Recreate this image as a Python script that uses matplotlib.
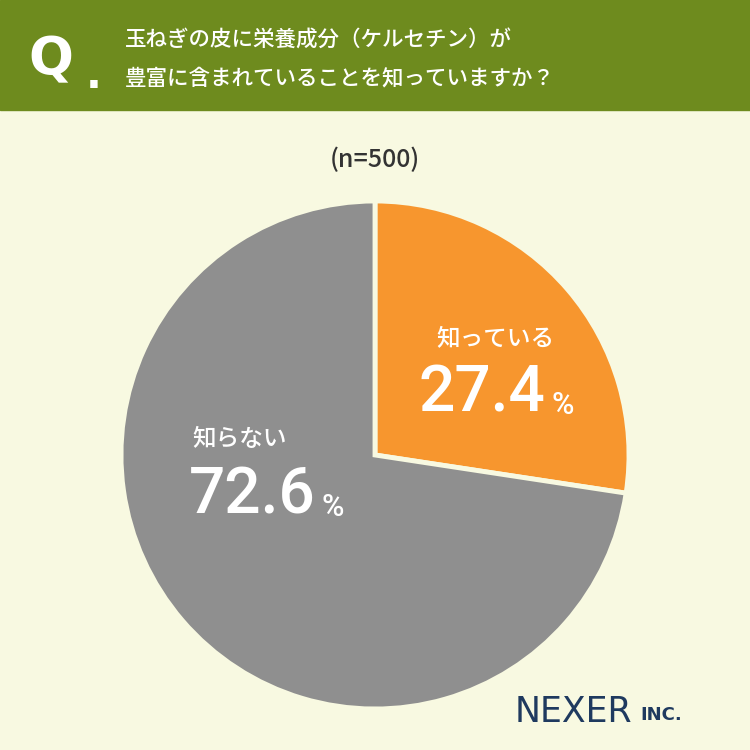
import matplotlib
matplotlib.use("Agg")
import matplotlib.pyplot as plt
from matplotlib.patches import Rectangle

labels = ["知っている", "知らない"]
values = [27.4, 72.6]
colors = ["#f7962e", "#8f8f8f"]
question = ["玉ねぎの皮に栄養成分（ケルセチン）が", "豊富に含まれていることを知っていますか？"]
n_text = "(n=500)"

plt.rcParams['font.family'] = ['Noto Sans CJK JP', 'DejaVu Sans']
fig = plt.figure(figsize=(7.5, 7.5), dpi=100)
fig.patch.set_facecolor("#f8f9e1")
bg = fig.add_axes([0, 0, 1, 1]); bg.set_xlim(0, 750); bg.set_ylim(750, 0); bg.axis("off")
bg.add_patch(Rectangle((0, 0), 750, 110, color="#6e8b1e"))

r = 254
ax = fig.add_axes([(375 - r) / 750, 1 - (455 + r) / 750, 2 * r / 750, 2 * r / 750])
ax.pie(values, colors=colors, startangle=90, counterclock=False, radius=1,
       wedgeprops=dict(edgecolor="#f8f9e1", linewidth=3.5))
ax.set_xlim(-1, 1); ax.set_ylim(-1, 1)
ax.set_aspect("equal")

ov = fig.add_axes([0, 0, 1, 1]); ov.set_xlim(0, 750); ov.set_ylim(750, 0); ov.axis("off")
ov.patch.set_alpha(0)
ov.text(28, 60, "Q", color="white", fontsize=38, fontweight="bold", va="center", family="DejaVu Sans")
ov.text(86, 76, ".", color="white", fontsize=30, fontweight="bold", va="center", family="DejaVu Sans")
ov.text(125, 40, question[0], color="white", fontsize=15.5, va="center", fontweight="medium")
ov.text(125, 78, question[1], color="white", fontsize=15.5, va="center", fontweight="medium")
ov.text(375, 160, n_text, color="#333333", fontsize=18, ha="center", va="center", fontweight="medium")
ov.text(515, 712, "NEXER", color="#1f3a5f", fontsize=25, ha="left", va="center", family="DejaVu Sans")
ov.text(640, 715, "INC.", color="#1f3a5f", fontsize=13, ha="left", va="center", family="DejaVu Sans", fontweight="bold")

ov.text(495, 340, labels[0], color="white", fontsize=17, ha="center", va="center", fontweight="medium")
ov.text(482, 393, "27.4", color="white", fontsize=46, ha="center", va="center", family="Roboto", fontweight="medium")
ov.text(563, 405, "%", color="white", fontsize=22, ha="center", va="center", family="Roboto", fontweight="medium")
ov.text(240, 440, labels[1], color="white", fontsize=17, ha="center", va="center", fontweight="medium")
ov.text(252, 495, "72.6", color="white", fontsize=46, ha="center", va="center", family="Roboto", fontweight="medium")
ov.text(333, 507, "%", color="white", fontsize=22, ha="center", va="center", family="Roboto", fontweight="medium")

fig.savefig("out.png", dpi=100, facecolor=fig.get_facecolor())
